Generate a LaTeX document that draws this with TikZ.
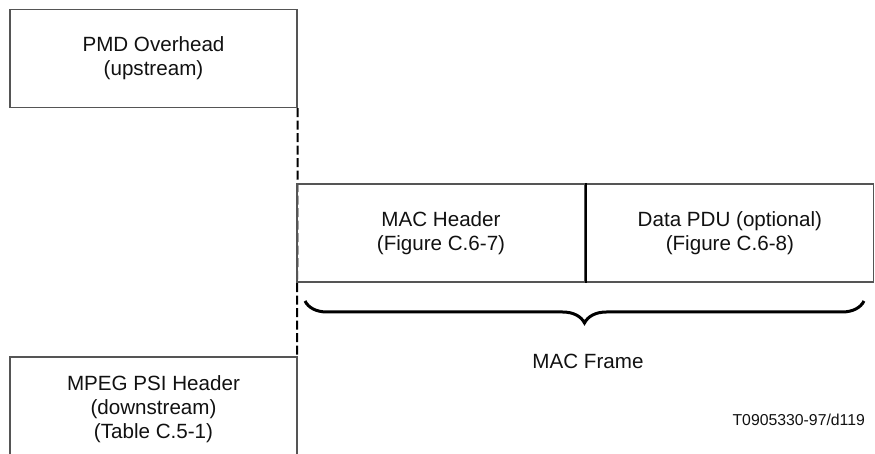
\documentclass[tikz,border=0pt]{standalone}
\usepackage{fontspec}
\setmainfont{Liberation Sans}
\usepackage{xcolor}
\usetikzlibrary{positioning, decorations.pathreplacing}
\definecolor{edgec}{HTML}{555555}
\definecolor{inkc}{HTML}{111111}
\tikzset{
  box/.style={draw=edgec, line width=0.7pt, minimum height=49pt, inner sep=0pt, align=center,
    font=\fontsize{10.3}{12}\selectfont, text=inkc},
  lbl/.style={align=center, font=\fontsize{10.3}{12}\selectfont, text=inkc},
  tag/.style={font=\fontsize{7.9}{9.5}\selectfont, text=inkc},
  dashln/.style={draw=black, line width=1pt, dash pattern=on 4.5pt off 1.75pt},
  brc/.style={decorate, decoration={brace, mirror, amplitude=11pt}, draw=black, line width=1.5pt},
}

\begin{document}
\begin{tikzpicture}[x=0.5pt, y=-0.5pt]
  \useasboundingbox (0,0) rectangle (875,454);
  % ---- left column: overhead boxes
  \node[box, minimum width=143.5pt] (pmd) at (153.5,58.5) {PMD Overhead\\(upstream)};
  \coordinate (mpegtop) at (297,357);
  \draw[edgec, line width=0.7pt] (10,454) |- (mpegtop) -- (297,454);
  \node[lbl] (mpeg) at (153.5,409) {MPEG PSI Header\\(downstream)\\(Table C.5-1)};
  \draw[dashln] (pmd.south east) -- (mpegtop);
  % ---- MAC frame
  \node[box, minimum width=144pt] (machdr) at (441,233) {MAC Header\\(Figure C.6-7)};
  \node[box, minimum width=143.5pt, right=0pt of machdr] (pdu) {Data PDU (optional)\\(Figure C.6-8)};
  \draw[black, line width=1pt] (machdr.north east) -- (machdr.south east);
  \coordinate (brl) at (305,301);
  \coordinate (brr) at (864,301);
  \draw[brc] (brl) -- (brr);
  \node[lbl] (frame) at (588,361) {MAC Frame};
  \node[tag, anchor=east] (ref) at (872,420) {T0905330-97/d119};
\end{tikzpicture}
\end{document}
